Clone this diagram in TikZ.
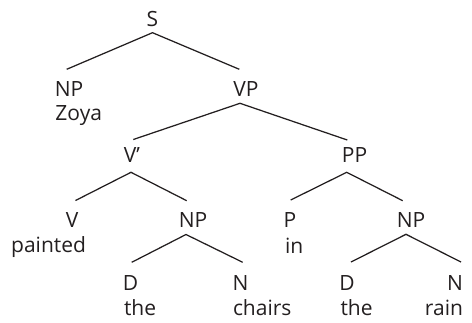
\documentclass[tikz,border=0pt]{standalone}
\usepackage{fontspec}
\setmainfont{Open Sans}
\definecolor{ink}{HTML}{231F20}
\begin{document}
\begin{tikzpicture}[x=1pt,y=-1pt,
  lab/.style={inner sep=0pt, outer sep=0pt, anchor=base, font=\fontsize{21}{25}\selectfont, text=ink},
  branch/.style={draw=ink, line width=1.25pt}]
\useasboundingbox (0,0) rectangle (472,322);
% categories
\node[lab] (S)   at (152.5,26) {S};
\node[lab] (NPa) at (69,96)    {NP};
\node[lab] (VP)  at (246,96)   {VP};
\node[lab] (Vb)  at (132,162)  {V’};
\node[lab] (PP)  at (354.5,162){PP};
\node[lab] (V)   at (72,227)   {V};
\node[lab] (NPb) at (193,227)  {NP};
\node[lab] (P)   at (290,227)  {P};
\node[lab] (NPc) at (411,227)  {NP};
\node[lab] (Da)  at (130.5,290){D};
\node[lab] (Na)  at (240.5,290){N};
\node[lab] (Db)  at (347,290)  {D};
\node[lab] (Nb)  at (455,290)  {N};
% words
\node[lab, anchor=base west] (wZoya)    at (55.5,120.5) {Zoya};
\node[lab, anchor=base east] (wpainted) at (86,252)     {painted};
\node[lab, anchor=base west] (win)      at (285,253)    {in};
\node[lab, anchor=base west] (wthea)    at (124,315)    {the};
\node[lab, anchor=base west] (wchairs)  at (233,315)    {chairs};
\node[lab, anchor=base west] (wtheb)    at (340.5,315)  {the};
\node[lab, anchor=base east] (wrain)    at (463,315)    {rain};
% branches
\draw[branch] ([shift={(-2.3,-26.7)}]NPa.base) -- ([shift={(0,6.7)}]S.base) -- ([shift={(-6.7,-26.7)}]VP.base);
\draw[branch] ([shift={(1.3,-22.5)}]Vb.base) -- ([shift={(-6,7.3)}]VP.base) -- ([shift={(-7.2,-22)}]PP.base);
\draw[branch] ([shift={(3.5,-26.5)}]V.base) -- ([shift={(-1,10.3)}]Vb.base) -- ([shift={(-6.3,-26.3)}]NPb.base);
\draw[branch] ([shift={(0.7,-27)}]P.base) -- ([shift={(-7.8,10.3)}]PP.base) -- ([shift={(-8.3,-26.3)}]NPc.base);
\draw[branch] ([shift={(1.2,-27.7)}]Da.base) -- ([shift={(-7,7.5)}]NPb.base) -- ([shift={(2.2,-27.7)}]Na.base);
\draw[branch] ([shift={(4,-28)}]Db.base) -- ([shift={(-5,7.3)}]NPc.base) -- ([shift={(6,-28)}]Nb.base);
\end{tikzpicture}
\end{document}
